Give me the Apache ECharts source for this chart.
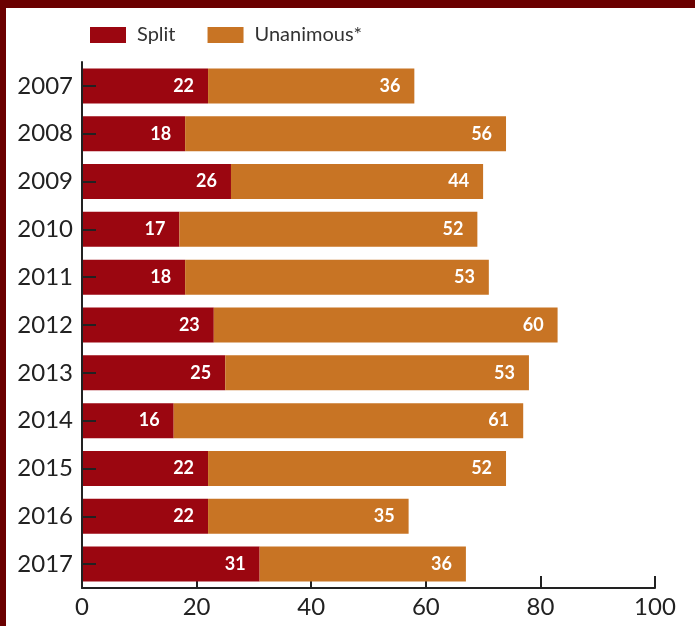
<!DOCTYPE html>
<html>
<head>
<meta charset="utf-8">
<style>
  html, body { margin: 0; padding: 0; background: #ffffff; }
  #chart { width: 695px; height: 626px; }
</style>
<script src="https://cdn.jsdelivr.net/npm/echarts@6/dist/echarts.min.js"></script>
</head>
<body>
<div id="chart"></div>
<script>
// Decisions per year, split vs. unanimous
const years = ['2007', '2008', '2009', '2010', '2011', '2012', '2013', '2014', '2015', '2016', '2017'];
const split = [22, 18, 26, 17, 18, 23, 25, 16, 22, 22, 31];
const unanimous = [36, 56, 44, 52, 53, 60, 53, 61, 52, 35, 36];
const xTicks = [0, 20, 40, 60, 80, 100];

const FONT = 'Lato, "Open Sans", sans-serif';
const frameColor = '#6b0000';

const chart = echarts.init(document.getElementById('chart'), null, { renderer: 'canvas' });

const barLabel = {
  show: true,
  position: 'insideRight',
  distance: 14,
  color: '#ffffff',
  fontFamily: FONT,
  fontWeight: 'bold',
  fontSize: 18
};

chart.setOption({
  animation: false,
  backgroundColor: '#ffffff',
  graphic: [
    { type: 'rect', left: 0, top: 0, shape: { width: 695, height: 8 }, style: { fill: frameColor }, z: 100 },
    { type: 'rect', left: 0, top: 0, shape: { width: 6, height: 626 }, style: { fill: frameColor }, z: 100 }
  ],
  legend: {
    left: 85,
    top: 20,
    icon: 'rect',
    itemWidth: 36,
    itemHeight: 16,
    itemGap: 32,
    textStyle: { fontFamily: FONT, fontSize: 20, color: '#333333', padding: [0, 0, 0, 6] },
    data: ['Split', 'Unanimous*']
  },
  grid: { left: 82, right: 40, top: 62, bottom: 38, containLabel: false },
  xAxis: {
    type: 'value',
    min: 0,
    max: 100,
    interval: 20,
    axisLine: { show: true, lineStyle: { color: '#222222', width: 2 } },
    axisTick: { show: true, inside: true, length: 12, lineStyle: { color: '#222222', width: 2 } },
    splitLine: { show: false },
    axisLabel: {
      fontFamily: FONT, fontSize: 24, color: '#222222', margin: 7,
      formatter: v => xTicks.includes(v) ? String(v) : ''
    }
  },
  yAxis: {
    type: 'category',
    inverse: true,
    data: years,
    z: 10,
    axisLine: { show: true, lineStyle: { color: '#222222', width: 2 } },
    axisTick: { show: true, inside: true, alignWithLabel: true, length: 14, lineStyle: { color: '#222222', width: 2 } },
    axisLabel: { fontFamily: FONT, fontSize: 24, color: '#222222', margin: 9 }
  },
  series: [
    {
      name: 'Split',
      type: 'bar',
      stack: 'total',
      barWidth: 35,
      itemStyle: { color: '#9b0610' },
      label: barLabel,
      data: split
    },
    {
      name: 'Unanimous*',
      type: 'bar',
      stack: 'total',
      barWidth: 35,
      itemStyle: { color: '#c87424' },
      label: barLabel,
      data: unanimous
    }
  ]
});
</script>
</body>
</html>
